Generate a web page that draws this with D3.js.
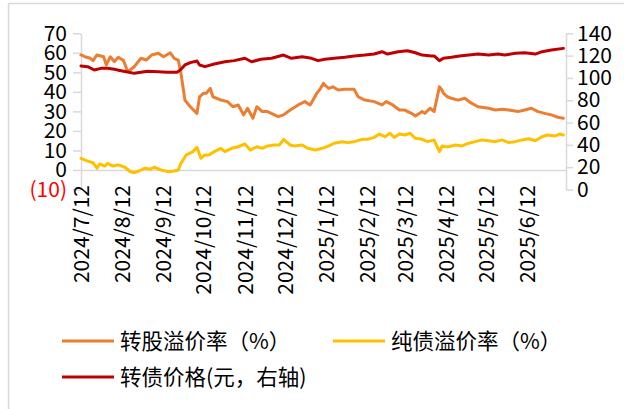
<!DOCTYPE html>
<html>
<head>
<meta charset="utf-8">
<script src="https://cdn.jsdelivr.net/npm/d3@7"></script>
<style>
  html, body { margin: 0; padding: 0; background: #fff; }
  svg { display: block; font-family: "Noto Sans CJK SC", "Noto Sans", sans-serif; }
</style>
</head>
<body>
<svg id="chart" width="624" height="409"></svg>
<script>
// ---- data ----
const leftTicks = [-10, 0, 10, 20, 30, 40, 50, 60, 70];
const rightTicks = [0, 20, 40, 60, 80, 100, 120, 140];
const xTickLabels = ["2024/7/12","2024/8/12","2024/9/12","2024/10/12","2024/11/12","2024/12/12",
  "2025/1/12","2025/2/12","2025/3/12","2025/4/12","2025/5/12","2025/6/12"];
const seriesNames = ["转股溢价率（%）", "纯债溢价率（%）", "转债价格(元，右轴)"];

const priceDates = ["2024-07-12","2024-07-17","2024-07-22","2024-07-27","2024-08-01","2024-08-06","2024-08-11","2024-08-16",
  "2024-08-21","2024-08-26","2024-08-31","2024-09-08","2024-09-15","2024-09-22","2024-09-25","2024-09-28","2024-10-02",
  "2024-10-07","2024-10-09","2024-10-13","2024-10-20","2024-10-28","2024-11-04","2024-11-12","2024-11-17","2024-11-24",
  "2024-12-02","2024-12-11","2024-12-17","2024-12-25","2025-01-01","2025-01-06","2025-01-11","2025-01-18","2025-01-26",
  "2025-02-02","2025-02-10","2025-02-17","2025-02-23","2025-02-27","2025-03-07","2025-03-14","2025-03-20","2025-03-25",
  "2025-04-01","2025-04-03","2025-04-07","2025-04-10","2025-04-16","2025-04-22","2025-04-29","2025-05-06","2025-05-14",
  "2025-05-21","2025-05-26","2025-06-03","2025-06-10","2025-06-18","2025-06-23","2025-06-30","2025-07-09"];
const priceValues = [110.7,110.1,107.1,108.6,108.6,107.7,106.5,105.3,104.1,105,105.9,105.6,105,105,107.7,111.6,113.7,
  115.2,111.6,110.1,112.5,114.5,115.5,117.6,114.5,116.7,117.6,120.5,117.6,119,117.6,115.5,116.7,117.6,118.5,
  119.7,120.5,121.4,123.5,121.4,123.5,124.4,122.6,120.5,119.7,119.7,115.5,117.6,118.5,119.7,120.5,121.4,120.5,
  121.4,120.5,122.1,122.6,121.4,123.5,125,126.5];

const convDates = ["2024-07-12","2024-07-15","2024-07-19","2024-07-21","2024-07-24","2024-07-29","2024-07-31","2024-08-03",
  "2024-08-06","2024-08-09","2024-08-13","2024-08-16","2024-08-21","2024-08-26","2024-08-30","2024-09-03","2024-09-08",
  "2024-09-12","2024-09-17","2024-09-20","2024-09-23","2024-09-25","2024-09-28","2024-10-02","2024-10-07","2024-10-09",
  "2024-10-12","2024-10-14","2024-10-17","2024-10-19","2024-10-25","2024-10-30","2024-11-03","2024-11-07","2024-11-11",
  "2024-11-14","2024-11-18","2024-11-21","2024-11-25","2024-11-29","2024-12-07","2024-12-11","2024-12-16","2024-12-22",
  "2024-12-27","2024-12-31","2025-01-05","2025-01-07","2025-01-10","2025-01-11","2025-01-14","2025-01-17","2025-01-21",
  "2025-01-26","2025-02-02","2025-02-05","2025-02-10","2025-02-17","2025-02-23","2025-02-26","2025-03-03","2025-03-08",
  "2025-03-12","2025-03-17","2025-03-20","2025-03-25","2025-03-27","2025-03-31","2025-04-03","2025-04-07","2025-04-09",
  "2025-04-10","2025-04-13","2025-04-16","2025-04-21","2025-04-26","2025-05-01","2025-05-06","2025-05-14","2025-05-19",
  "2025-05-24","2025-05-29","2025-06-05","2025-06-10","2025-06-15","2025-06-20","2025-06-25","2025-06-30","2025-07-05",
  "2025-07-09"];
const convValues = [58.9,58,57.2,56,58.9,58,53.8,58,55.5,57.7,56,50.3,52.9,57.2,56.3,58.9,59.8,58,60,57.2,56.3,49.5,
  35.8,32.4,29,37.5,39.3,39.3,41.8,37.5,35.8,35,32.4,33.3,28.2,31.6,26.5,32.4,29.9,29.9,27.3,28.2,30.7,33.3,35,33.3,
  39.3,41,44.4,43.5,41.8,42.6,41,41.3,41.3,37.5,35.8,35,33.3,35,33.3,30.7,30.7,29,27.6,29.9,29,31.6,29.9,42.6,40.9,
  39.3,37.5,36.7,35.8,36.7,34.2,32.4,31.6,30.7,31.1,30.7,29.9,30.7,31.6,29.9,29,28.2,27,26.5];

const bondDates = ["2024-07-12","2024-07-16","2024-07-21","2024-07-24","2024-07-26","2024-07-30","2024-08-01","2024-08-05",
  "2024-08-09","2024-08-14","2024-08-18","2024-08-21","2024-08-25","2024-08-29","2024-09-02","2024-09-05","2024-09-10",
  "2024-09-16","2024-09-20","2024-09-23","2024-09-25","2024-09-29","2024-10-04","2024-10-07","2024-10-10","2024-10-13",
  "2024-10-16","2024-10-20","2024-10-25","2024-10-28","2024-11-02","2024-11-07","2024-11-12","2024-11-16","2024-11-21",
  "2024-11-25","2024-11-29","2024-12-04","2024-12-08","2024-12-11","2024-12-16","2024-12-19","2024-12-25","2024-12-29",
  "2025-01-04","2025-01-09","2025-01-14","2025-01-18","2025-01-24","2025-01-28","2025-02-02","2025-02-08","2025-02-12",
  "2025-02-17","2025-02-21","2025-02-25","2025-03-01","2025-03-04","2025-03-08","2025-03-12","2025-03-16","2025-03-20",
  "2025-03-25","2025-03-29","2025-04-03","2025-04-07","2025-04-09","2025-04-11","2025-04-14","2025-04-19","2025-04-24",
  "2025-04-29","2025-05-04","2025-05-09","2025-05-14","2025-05-19","2025-05-24","2025-05-29","2025-06-03","2025-06-08",
  "2025-06-13","2025-06-18","2025-06-23","2025-06-27","2025-07-03","2025-07-06","2025-07-09"];
const bondValues = [6,4.8,3.7,0.9,3.1,2,3.4,2,2.6,1.4,-0.9,-1.4,-0.4,0.9,0.4,1.4,0,-0.9,-0.5,0,3.4,7.7,9.4,11.6,6,
  7.7,7.7,9.4,11.1,9.4,11.1,11.9,13.3,10.2,11.9,11.1,12.3,12.8,12.8,15.7,12.8,12.3,12.8,11.1,10.2,11.1,12.3,13.7,
  14.5,14,14.5,15.7,15.7,16.7,18.4,17,18.8,16.7,18.4,17.9,18.8,16.2,15.7,14.5,15.4,9.4,12.3,11.9,11.9,12.8,12.3,
  13.7,14.5,15.4,15,14.5,15.4,14,14.5,15.4,16,15,17,17.9,17.4,18.4,17.9];

const colors = ["#ED7D31", "#FFC000", "#C00000"];

// ---- drawing ----
const svg = d3.select("#chart");
const parse = d3.timeParse("%Y-%m-%d");
const parseLabel = d3.timeParse("%Y/%m/%d");

const x = d3.scaleTime()
  .domain([parse("2024-07-12"), parse("2025-07-11")])
  .range([81, 566]);
const yL = d3.scaleLinear().domain([-10, 70]).range([189.5, 33.3]);
const yR = d3.scaleLinear().domain([0, 140]).range([189.5, 33.3]);

const gridColor = "#d9d9d9";

// outer frame (partial border)
svg.append("line").attr("x1", 8.5).attr("x2", 8.5).attr("y1", 3.5).attr("y2", 409)
  .attr("stroke", gridColor).attr("stroke-width", 1.5);
svg.append("line").attr("x1", 8.5).attr("x2", 624).attr("y1", 3.5).attr("y2", 3.5)
  .attr("stroke", gridColor).attr("stroke-width", 1.5);

// left axis
const gL = svg.append("g").attr("transform", "translate(81,0)")
  .call(d3.axisLeft(yL).tickValues(leftTicks).tickSize(8).tickSizeOuter(0).tickPadding(6)
    .tickFormat(d => d < 0 ? `(${-d})` : d));
gL.selectAll("path, line").attr("stroke", gridColor).attr("stroke-width", 1.5);
gL.selectAll("text").attr("font-size", 21).attr("fill", d => d < 0 ? "#FF0000" : "#000")
  .attr("font-family", "'Noto Sans CJK SC', sans-serif");

// right axis
const gR = svg.append("g").attr("transform", "translate(566,0)")
  .call(d3.axisRight(yR).tickValues(rightTicks).tickSize(7).tickSizeOuter(0).tickPadding(4));
gR.selectAll("path, line").attr("stroke", gridColor).attr("stroke-width", 1.5);
gR.selectAll("text").attr("font-size", 21).attr("fill", "#000")
  .attr("font-family", "'Noto Sans CJK SC', sans-serif");

// x axis at zero line of left axis
const gX = svg.append("g").attr("transform", `translate(0,${yL(0)})`)
  .call(d3.axisBottom(x).tickValues(xTickLabels.map(s => parseLabel(s)))
    .tickSize(0).tickSizeOuter(0)
    .tickFormat((d, i) => xTickLabels[i]));
gX.select("path").attr("stroke", gridColor).attr("stroke-width", 1.5);
gX.selectAll("text")
  .attr("font-size", 21).attr("fill", "#000")
  .attr("font-family", "'Noto Sans CJK SC', sans-serif")
  .attr("transform", "rotate(-90)")
  .attr("text-anchor", "end")
  .attr("x", -15).attr("y", 0).attr("dy", "0.35em");

// lines
function drawLine(dates, values, scale, color) {
  const data = dates.map((d, i) => ({ date: parse(d), v: values[i] }));
  svg.append("path").datum(data)
    .attr("fill", "none").attr("stroke", color).attr("stroke-width", 3)
    .attr("stroke-linejoin", "round").attr("stroke-linecap", "round")
    .attr("d", d3.line().x(d => x(d.date)).y(d => scale(d.v)));
}
drawLine(bondDates, bondValues, yL, colors[1]);
drawLine(convDates, convValues, yL, colors[0]);
drawLine(priceDates, priceValues, yR, colors[2]);

// legend
const legendItems = [
  { name: seriesNames[0], color: colors[0], lx: 62, ly: 341 },
  { name: seriesNames[1], color: colors[1], lx: 333, ly: 341 },
  { name: seriesNames[2], color: colors[2], lx: 62, ly: 377 }
];
const lg = svg.append("g");
legendItems.forEach(it => {
  lg.append("line").attr("x1", it.lx).attr("x2", it.lx + 52).attr("y1", it.ly).attr("y2", it.ly)
    .attr("stroke", it.color).attr("stroke-width", 3);
  lg.append("text").attr("x", it.lx + 58).attr("y", it.ly).attr("dy", "0.35em")
    .attr("font-size", 21.5).attr("fill", "#000")
    .attr("font-family", "'Noto Sans CJK SC', sans-serif")
    .text(it.name);
});
</script>
</body>
</html>
